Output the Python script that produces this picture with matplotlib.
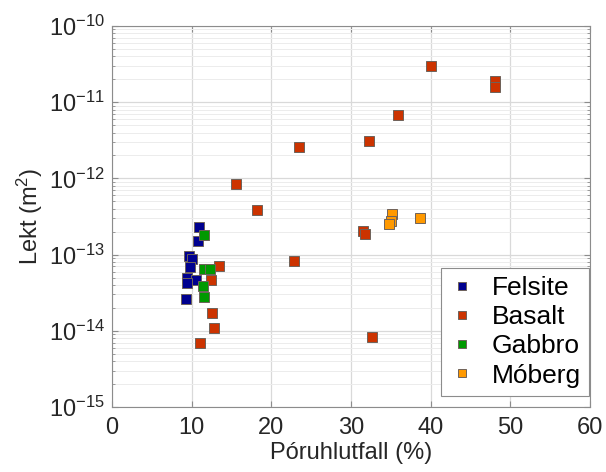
import matplotlib
matplotlib.use("Agg")
import matplotlib.pyplot as plt
from matplotlib.ticker import LogLocator, NullFormatter, FixedLocator

# porosity (%) and permeability (m^2)
felsite_x = [10.9, 10.8, 9.7, 10.0, 9.8, 9.4, 10.5, 9.4, 9.3]
felsite_y = [2.3e-13, 1.5e-13, 9.6e-14, 8.7e-14, 6.9e-14, 5.0e-14, 4.7e-14, 4.2e-14, 2.6e-14]

basalt_x = [40.1, 48.1, 48.1, 35.9, 32.2, 23.5, 15.6, 18.2, 31.5, 31.7,
            22.9, 13.4, 12.4, 12.5, 12.8, 11.1, 32.6]
basalt_y = [3.0e-11, 1.9e-11, 1.6e-11, 6.7e-12, 3.1e-12, 2.6e-12, 8.5e-13, 3.85e-13, 2.06e-13, 1.86e-13,
            8.2e-14, 7.0e-14, 4.6e-14, 1.7e-14, 1.08e-14, 7.0e-15, 8.2e-15]

gabbro_x = [11.6, 11.5, 12.3, 11.4, 11.6]
gabbro_y = [1.82e-13, 6.5e-14, 6.5e-14, 3.9e-14, 2.8e-14]

moberg_x = [35.2, 35.0, 34.8, 38.7]
moberg_y = [3.44e-13, 2.8e-13, 2.5e-13, 3.05e-13]

SERIES = [
    ("Felsite", felsite_x, felsite_y, "#00008F"),
    ("Basalt", basalt_x, basalt_y, "#CC3300"),
    ("Gabbro", gabbro_x, gabbro_y, "#009900"),
    ("Móberg", moberg_x, moberg_y, "#FF9900"),
]

plt.rcParams.update({
    "font.family": ["Liberation Sans", "DejaVu Sans"],
    "mathtext.fontset": "custom",
    "mathtext.rm": "Liberation Sans",
    "mathtext.it": "Liberation Sans",
    "font.size": 17,
})

fig = plt.figure(figsize=(6.06, 4.72), dpi=100)
ax = fig.add_axes([112 / 606, 65 / 472, 478 / 606, 381 / 472])

for label, xs, ys, col in SERIES:
    ax.plot(xs, ys, ls="none", marker="s", ms=6.8, mfc=col,
            mec="#6e625a", mew=0.7, label=label, zorder=3)

ax.set_yscale("log")
ax.set_xlim(0, 60)
ax.set_ylim(1e-15, 1e-10)
ax.set_xticks(range(0, 61, 10))
ax.yaxis.set_major_locator(FixedLocator([10.0 ** e for e in range(-15, -9)]))
ax.set_yticklabels([rf"$10^{{{e}}}$" for e in range(-15, -9)])
ax.yaxis.set_minor_locator(LogLocator(base=10, subs=range(2, 10)))
ax.yaxis.set_minor_formatter(NullFormatter())

ax.grid(True, which="major", color="#d9d9d9", lw=0.9)
ax.grid(True, which="minor", axis="y", color="#ececec", lw=0.7)
ax.set_axisbelow(True)
for s in ax.spines.values():
    s.set_color("#8c8c8c")
    s.set_linewidth(0.8)
ax.tick_params(which="both", direction="in", top=True, right=True, colors="#8c8c8c",
               labelcolor="#262626", labelsize=17)
ax.tick_params(which="major", length=4)
ax.tick_params(which="minor", length=2)
ax.tick_params(axis="x", pad=7)
ax.tick_params(axis="y", pad=5)

ax.set_xlabel("Póruhlutfall (%)", fontsize=17, color="#262626", labelpad=2)
ax.set_ylabel(r"Lekt (m$^2$)", fontsize=17, color="#262626", labelpad=3)

leg = ax.legend(loc="lower right", bbox_to_anchor=(0.997, 0.03), fontsize=19,
                markerscale=0.75, handlelength=1.0, handletextpad=0.6,
                labelspacing=0.2, borderpad=0.3, borderaxespad=0.0, fancybox=False,
                edgecolor="#8c8c8c", framealpha=1)
leg.get_frame().set_linewidth(0.8)
for t in leg.get_texts():
    t.set_color("black")

fig.savefig("out.png", dpi=100)
